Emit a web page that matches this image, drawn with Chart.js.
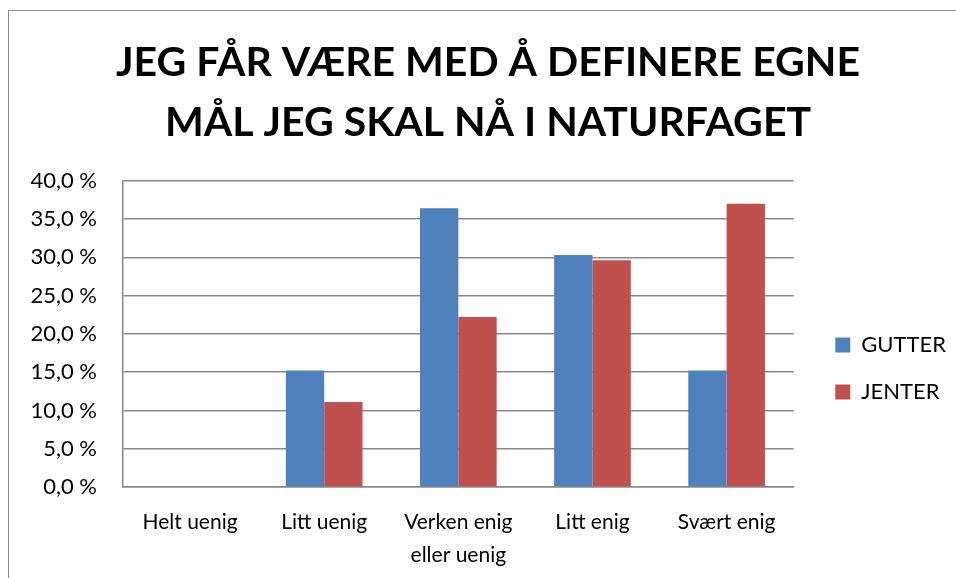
<!DOCTYPE html>
<html>
<head>
<meta charset="utf-8">
<script src="https://cdn.jsdelivr.net/npm/chart.js@4/dist/chart.umd.min.js"></script>
<style>
  html, body { margin: 0; padding: 0; background: #fff; overflow: hidden; }
  #frame { position: absolute; left: 8px; top: 10px; width: 1000px; height: 1000px; border: 1.5px solid #8a8a8a; }
  #wrap { position: absolute; left: 0; top: 0; width: 956px; height: 578px; }
</style>
</head>
<body>
<div id="frame"></div>
<div id="wrap"><canvas id="marksChart" width="956" height="578"></canvas></div>
<script>
// data
var categories = ['Helt uenig', 'Litt uenig', ['Verken enig', 'eller uenig'], 'Litt enig', 'Svært enig'];
var seriesNames = ['GUTTER', 'JENTER'];
var gutterValues = [0, 15.2, 36.4, 30.3, 15.2];
var jenterValues = [0, 11.1, 22.2, 29.6, 37.0];
var yTicks = [0, 5, 10, 15, 20, 25, 30, 35, 40];
var titleLines = ['JEG FÅR VÆRE MED Å DEFINERE EGNE', 'MÅL JEG SKAL NÅ I NATURFAGET'];

var font = 'Lato, "Open Sans", sans-serif';
var gridColor = '#898989';

document.addEventListener('DOMContentLoaded', function () {
    var ctx = document.getElementById('marksChart').getContext('2d');

    var myChart = new Chart(ctx, {
        type: 'bar',
        data: {
            labels: categories,
            datasets: [
                { label: seriesNames[0], data: gutterValues, backgroundColor: '#4F81BD' },
                { label: seriesNames[1], data: jenterValues, backgroundColor: '#C0504D' }
            ]
        },
        options: {
            responsive: false,
            animation: false,
            // uneven side padding moves the title centre to the right like the original
            layout: { padding: { left: 20, right: 0, top: 0, bottom: 0 } },
            datasets: { bar: { categoryPercentage: 2 / 3.5, barPercentage: 1 } },
            plugins: {
                title: {
                    display: true,
                    text: titleLines,
                    color: '#000',
                    font: { family: font, size: 41, weight: 'bold', lineHeight: 1.46 },
                    padding: { top: 33, bottom: 28 }
                },
                legend: {
                    position: 'right',
                    // empty legend title only pushes the two items down
                    title: { display: true, text: '', font: { size: 10, lineHeight: 1.2 }, padding: { top: 147, bottom: 0 } },
                    labels: {
                        color: '#000',
                        font: { family: font, size: 22 },
                        boxWidth: 15,
                        boxHeight: 15,
                        padding: 25
                    }
                },
                tooltip: { enabled: false }
            },
            scales: {
                x: {
                    grid: { display: false },
                    border: { display: true, color: gridColor, width: 1.5 },
                    ticks: { color: '#000', padding: 11, font: { family: font, size: 21, lineHeight: 1.57 }, maxRotation: 0 },
                    afterFit: function (scale) { scale.height = 91; }
                },
                y: {
                    min: 0,
                    max: 40,
                    afterBuildTicks: function (scale) {
                        scale.ticks = yTicks.map(function (v) { return { value: v }; });
                    },
                    grid: { color: gridColor, lineWidth: 1.5, drawTicks: false },
                    border: { display: true, color: gridColor, width: 1.5 },
                    ticks: {
                        color: '#000',
                        padding: 26,
                        font: { family: font, size: 22 },
                        callback: function (v) { return v.toFixed(1).replace('.', ',') + ' %'; }
                    },
                    afterFit: function (scale) { scale.width = 103; }
                },
                // blank spacer between plot and legend
                yPad: {
                    type: 'linear',
                    position: 'right',
                    min: 0,
                    max: 40,
                    grid: { display: false },
                    border: { display: false },
                    ticks: { display: false },
                    afterFit: function (scale) { scale.width = 16.6; }
                }
            }
        }
    });
});
</script>
</body>
</html>
